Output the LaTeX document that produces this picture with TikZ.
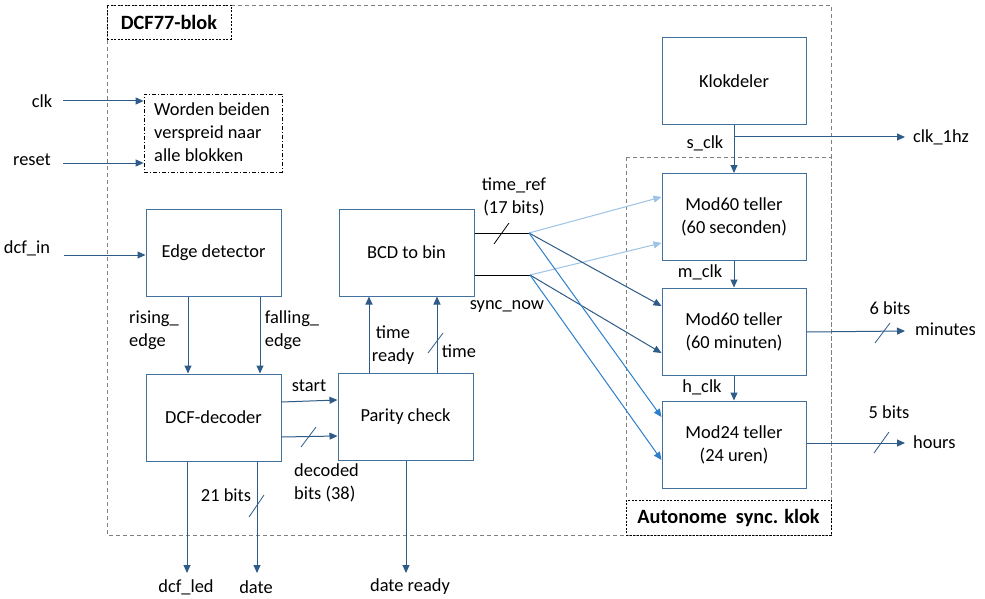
\documentclass[tikz,border=0pt]{standalone}
\usepackage{fontspec}
\setmainfont{Carlito}
\usetikzlibrary{arrows.meta,calc}
\definecolor{boxc}{HTML}{41719C}
\definecolor{arrc}{HTML}{2F5B88}
\definecolor{lightc}{HTML}{9DC3E6}
\definecolor{midc}{HTML}{2E7FCB}
\definecolor{dashc}{HTML}{808080}
\tikzset{
  blk/.style={draw=boxc, line width=1pt, minimum width=135pt, minimum height=87pt, inner sep=0pt, align=center},
  tblk/.style={blk, minimum width=144pt},
  lbl/.style={inner sep=0pt, align=center},
  lbll/.style={inner sep=0pt, align=left},
  arr/.style={draw=arrc, line width=1pt, -{Triangle[length=8pt,width=7pt]}},
  larr/.style={draw=lightc, line width=1pt, -{Triangle[length=8pt,width=7pt]}},
  marr/.style={draw=midc, line width=1pt, -{Triangle[length=8pt,width=7pt]}},
  slash/.style={draw=arrc, line width=0.8pt},
  ttl/.style={draw=black, line width=0.8pt, dash pattern=on 2pt off 1.5pt, inner sep=0pt, font=\fontsize{20.3}{24}\selectfont\bfseries},
  every node/.style={font=\fontsize{18.4}{23}\selectfont},
}
\begin{document}
\begin{tikzpicture}[x=1pt,y=-1pt]
\useasboundingbox (0,0) rectangle (985,599);
\fill[white] (0,0) rectangle (985,599);
% outer dashed frames
\draw[dashc, line width=0.8pt, dash pattern=on 4pt off 3pt] (107,5) rectangle (831,535);
\draw[dashc, line width=0.8pt, dash pattern=on 4pt off 3pt] (626,157) rectangle (831,535);
% title boxes
\node[ttl, minimum width=124pt, minimum height=34pt] (dcfl) at (169,22) {DCF77-blok};
\node[ttl, fill=white, minimum width=205pt, minimum height=35pt] (autl) at (728.5,517.5) {Autonome\ \ sync. klok};
% Worden box
\node[draw=black, line width=0.8pt, dash pattern=on 4pt off 2pt on 1pt off 2pt, minimum width=138pt, minimum height=78pt, inner sep=0pt] (wb) at (213,133) {};
\node[lbll, anchor=west] (wbt) at (154,132.5) {Worden beiden\\verspreid naar\\alle blokken};
% blocks
\node[blk] (ed) at (213.5,252.5) {Edge detector};
\node[blk] (dec) at (213.5,417.5) {DCF-decoder};
\node[blk] (par) at (405.5,417) {Parity check};
\node[blk] (bcd) at (406.5,252.5) {BCD to bin};
\node[tblk] (kd) at (734,81.5) {Klokdeler};
\node[tblk] (m60s) at (734,217) {Mod60 teller\\(60 seconden)};
\node[tblk] (m60m) at (734,331.5) {Mod60 teller\\(60 minuten)};
\node[tblk] (m24) at (734,444.5) {Mod24 teller\\(24 uren)};
% inputs
\node[lbl] (clk) at (42,101) {clk};
\node[lbl] (rst) at (32,160) {reset};
\node[lbl] (dcfin) at (27,248) {dcf\_in};
\coordinate (clks) at (63,101);
\coordinate (rsts) at (63,163);
\coordinate (dcfs) at (64,255);
\draw[arr] (clks) -- (clks -| wb.west);
\draw[arr] (rsts) -- (rsts -| wb.west);
\draw[arr] (dcfs) -- (dcfs -| ed.west);
% edge detector to decoder
\draw[arr] ([xshift=-25.5pt]ed.south) -- ([xshift=-25.5pt]dec.north);
\draw[arr] ([xshift=46.5pt]ed.south) -- ([xshift=46.5pt]dec.north);
\node[lbll] (rise) at (154,330.5) {rising\_\\edge};
\node[lbll] (fall) at (292,330.5) {falling\_\\edge};
% decoder to parity
\draw[arr] ([yshift=15.5pt]dec.east) -- ([yshift=17pt]par.west);
\draw[arr] ([yshift=-19.5pt]dec.east) -- ([yshift=-19pt]par.west);
\draw[slash] (301,447) -- (316,427);
\node[lbl] (start) at (309,386) {start};
\node[lbll, anchor=west] (decb) at (294,482.5) {decoded\\bits (38)};
% decoder outputs
\coordinate (led) at (187,573);
\coordinate (date) at (257,573);
\coordinate (dr) at (406,573);
\draw[arr] (dec.south -| led) -- (led);
\draw[arr] (dec.south -| date) -- (date);
\draw[arr] (par.south -| dr) -- (dr);
\draw[slash] (249,517) -- (264,495);
\node[lbl] (b21) at (226,495) {21 bits};
\node[lbl] (ledt) at (186,587) {dcf\_led};
\node[lbl] (datet) at (256,587) {date};
\node[lbl] (drt) at (410,587) {date ready};
% parity to bcd
\draw[arr] ([xshift=-36.5pt]par.north) -- ([xshift=-37.5pt]bcd.south);
\draw[arr] ([xshift=31.5pt]par.north) -- ([xshift=30.5pt]bcd.south);
\draw[slash] (428,353) -- (443,333);
\node[lbl] (tr) at (393,345.5) {time\\ready};
\node[lbl] (tm) at (459,351) {time};
% bcd outputs
\coordinate (tref) at (529,233);
\coordinate (snow) at (530,275);
\draw[black, line width=1pt] (bcd.east |- tref) -- (tref);
\draw[black, line width=1pt] (bcd.east |- snow) -- (snow);
\draw[black, line width=0.8pt] (494,244) -- (509,223);
\node[lbl] (treft) at (514,196.5) {time\_ref\\(17 bits)};
\node[lbl] (snowt) at (507,307) {sync\_now};
\draw[larr] (tref) -- ([yshift=20pt]m60s.west);
\draw[larr] (snow) -- ([yshift=-26pt]m60s.west);
\draw[arr] (tref) -- ([yshift=25.5pt]m60m.west);
\draw[arr] (snow) -- ([yshift=-21.5pt]m60m.west);
\draw[marr] (tref) -- ([yshift=27.5pt]m24.west);
\draw[marr] (snow) -- ([yshift=-15.5pt]m24.west);
% clock chain
\draw[arr] (kd.south) -- (m60s.north);
\draw[arr] (m60s.south) -- (m60m.north);
\draw[arr] (m60m.south) -- (m24.north);
\coordinate (br) at (734,137);
\coordinate (c1) at (905,137);
\draw[arr] (br) -- (c1);
\node[lbl] (sclk) at (705,143) {s\_clk};
\node[lbl, anchor=west] (c1t) at (913,137) {clk\_1hz};
\node[lbl] (mclk) at (700,272) {m\_clk};
\node[lbl] (hclk) at (702,387) {h\_clk};
% outputs
\coordinate (mino) at (905,331);
\coordinate (hro) at (905,443);
\draw[arr] ([yshift=-0.5pt]m60m.east) -- (mino);
\draw[arr] (m24.east |- hro) -- (hro);
\draw[slash] (875,343) -- (890,323);
\draw[slash] (874,453) -- (889,432);
\node[lbl] (b6) at (890,308) {6 bits};
\node[lbl, anchor=west] (mint) at (915,329) {minutes};
\node[lbl] (b5) at (889,412) {5 bits};
\node[lbl, anchor=west] (hrt) at (913,442) {hours};
\end{tikzpicture}
\end{document}
